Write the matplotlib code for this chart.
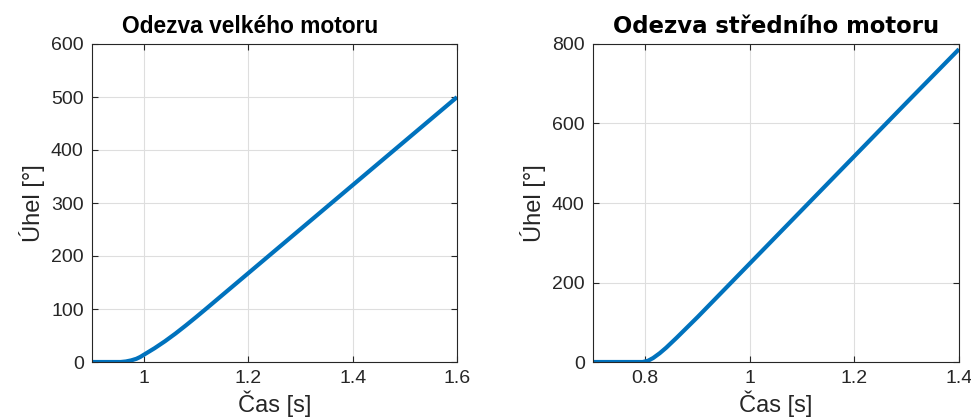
import numpy as np
import matplotlib
matplotlib.use('Agg')
import matplotlib.pyplot as plt
import matplotlib.ticker as ticker

# data
t_big = [0.90, 0.955, 0.965, 0.975, 0.985, 0.9925, 1.00, 1.02, 1.04, 1.06, 1.08, 1.10, 1.12,
         1.15, 1.20, 1.30, 1.40, 1.50, 1.60]
angle_big = [0, 0, 1, 3, 6, 9.5, 14, 26, 39.2, 53.6, 69, 85, 101.4,
             126.3, 167.8, 250.8, 333.8, 416.8, 499.8]

t_mid = [0.70, 0.795, 0.805, 0.815, 0.8275, 0.84, 0.86, 0.88, 0.90, 1.00, 1.10, 1.20, 1.30, 1.40]
angle_mid = [0, 0, 3, 10, 22, 36, 61, 87, 113, 248, 383, 518, 653, 787]

title_big = 'Odezva velkého motoru'
title_mid = 'Odezva středního motoru'
xlabel = 'Čas [s]'
ylabel = 'Úhel [°]'

dark = '#262626'
blue = '#0072BD'

plt.rcParams['font.family'] = ['Liberation Sans', 'DejaVu Sans']

fig = plt.figure(figsize=(9.71, 4.19), dpi=100)
H = 419.0
W = 971.0
ax1 = fig.add_axes([92 / W, (H - 362) / H, 365 / W, 318 / H])
ax2 = fig.add_axes([593 / W, (H - 362) / H, 366 / W, 318 / H])


def style(ax, xlim, ylim, xticks, yticks):
    ax.set_xlim(*xlim)
    ax.set_ylim(*ylim)
    ax.set_xticks(xticks)
    ax.set_yticks(yticks)
    ax.xaxis.set_major_formatter(ticker.FuncFormatter(lambda v, p: '%g' % round(v, 3)))
    ax.grid(True, color='#dedede', linewidth=0.8)
    ax.set_axisbelow(True)
    ax.tick_params(direction='in', length=4, width=0.8, colors=dark,
                   labelsize=14, top=True, right=True, pad=6)
    for s in ax.spines.values():
        s.set_color(dark)
        s.set_linewidth(0.8)
    ax.set_xlabel(xlabel, fontsize=17, color=dark, labelpad=2)
    ax.set_ylabel(ylabel, fontsize=17, color=dark, labelpad=4)


ax1.plot(t_big, angle_big, color=blue, linewidth=3, solid_capstyle='butt')
style(ax1, (0.9, 1.6), (0, 600), [1, 1.2, 1.4, 1.6], range(0, 601, 100))
ax1.set_title(title_big, fontsize=16.4, fontweight='bold', pad=8, x=0.433)

ax2.plot(t_mid, angle_mid, color=blue, linewidth=3, solid_capstyle='butt')
style(ax2, (0.7, 1.4), (0, 800), [0.8, 1, 1.2, 1.4], range(0, 801, 200))
ax2.set_title(title_mid, fontsize=16.4, fontweight='bold', pad=8, family='DejaVu Sans')

fig.savefig('out.png', dpi=100)
